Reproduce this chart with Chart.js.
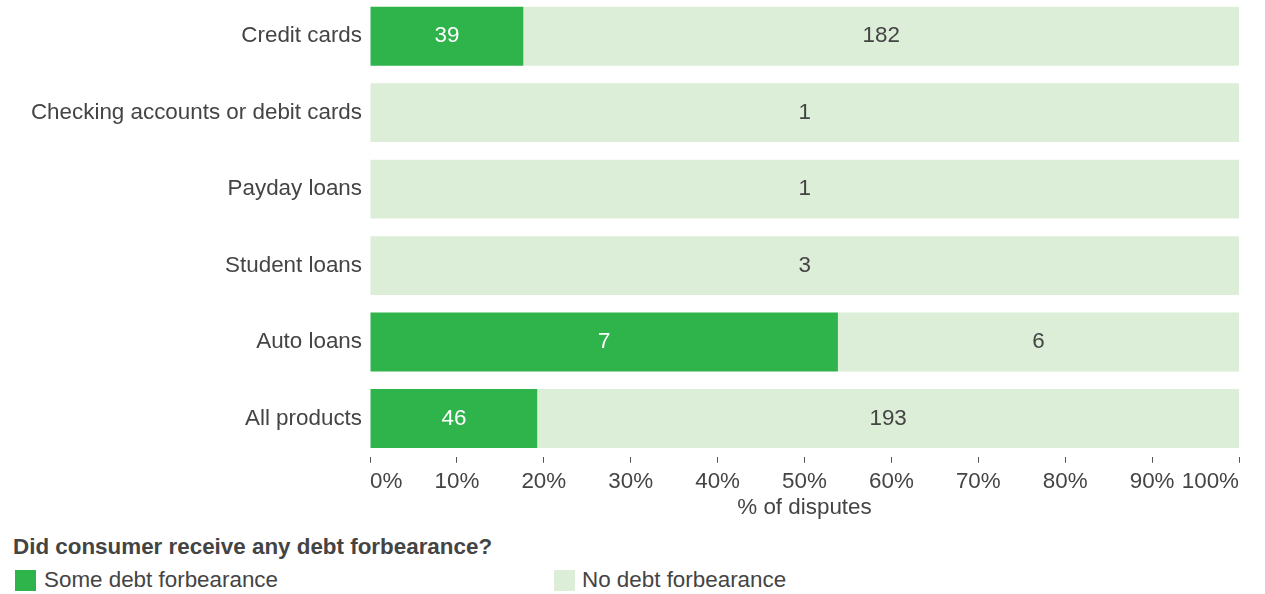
<!DOCTYPE html>
<html>
<head>
<meta charset="utf-8">
<script src="https://cdn.jsdelivr.net/npm/chart.js@4"></script>
<style>
  body { margin: 0; background: #fff; font-family: "Liberation Sans", Arial, sans-serif; color: #444; overflow: hidden; }
  #wrap { position: absolute; left: 0; top: -2px; width: 1265px; height: 521px; }
  .ltitle { position: absolute; left: 13px; top: 533px; font-size: 22.4px; font-weight: bold; color: #444; line-height: 28px; }
  .item { position: absolute; top: 566px; font-size: 22.4px; color: #444; line-height: 28px; }
  .sw { position: absolute; width: 21px; height: 21px; }
</style>
</head>
<body>
<div id="wrap"><canvas id="myChart"></canvas></div>
<div class="ltitle">Did consumer receive any debt forbearance?</div>
<div class="sw" style="left:15px; top:570px; background:#2fb34b;"></div>
<div class="item" style="left:44px;">Some debt forbearance</div>
<div class="sw" style="left:554px; top:570px; background:#dcedd8;"></div>
<div class="item" style="left:582px;">No debt forbearance</div>
<script>
const categories = ["Credit cards", "Checking accounts or debit cards", "Payday loans", "Student loans", "Auto loans", "All products"];
const someForbearance = [39, 0, 0, 0, 7, 46];
const noForbearance = [182, 1, 1, 3, 6, 193];
const xTicks = [0, 10, 20, 30, 40, 50, 60, 70, 80, 90, 100];

const green = '#2fb34b';
const lightGreen = '#dcedd8';
const textColor = '#444444';
const fontFamily = '"Liberation Sans", Arial, sans-serif';
const fontSize = 22.4;

// share of each row, so each bar fills 100%
const pct = (a, i) => a[i] / (someForbearance[i] + noForbearance[i]) * 100;

const valueLabels = {
    id: 'valueLabels',
    afterDatasetsDraw(chart) {
        const c = chart.ctx;
        c.save();
        c.font = fontSize + 'px ' + fontFamily;
        c.textAlign = 'center';
        c.textBaseline = 'middle';
        chart.data.datasets.forEach((ds, di) => {
            const meta = chart.getDatasetMeta(di);
            meta.data.forEach((el, i) => {
                const n = ds.counts[i];
                if (!n) return;
                const p = el.getCenterPoint();
                c.fillStyle = ds.labelColor;
                c.fillText(String(n), p.x, p.y);
            });
        });
        c.restore();
    }
};

const ctx = document.getElementById('myChart').getContext('2d');
const myChart = new Chart(ctx, {
    type: 'bar',
    data: {
        labels: categories,
        datasets: [{
            label: 'Some debt forbearance',
            counts: someForbearance,
            data: categories.map((_, i) => pct(someForbearance, i)),
            backgroundColor: green,
            labelColor: '#ffffff',
            barPercentage: 0.77,
            categoryPercentage: 1
        }, {
            label: 'No debt forbearance',
            counts: noForbearance,
            data: categories.map((_, i) => pct(noForbearance, i)),
            backgroundColor: lightGreen,
            labelColor: textColor,
            barPercentage: 0.77,
            categoryPercentage: 1
        }]
    },
    plugins: [valueLabels],
    options: {
        indexAxis: 'y',
        responsive: true,
        maintainAspectRatio: false,
        animation: false,
        layout: { padding: { top: 0, right: 26, left: 0, bottom: 0 } },
        plugins: {
            legend: { display: false },
            tooltip: { enabled: false }
        },
        scales: {
            x: {
                stacked: true,
                min: 0,
                max: 100,
                afterBuildTicks: (s) => { s.ticks = xTicks.map(v => ({ value: v })); },
                afterFit: (s) => { s.paddingLeft = 0; s.paddingRight = 0; },
                border: { display: false },
                grid: { drawOnChartArea: false, drawTicks: true, tickLength: 6, color: '#555', tickWidth: 1 },
                ticks: {
                    align: 'inner',
                    padding: 6,
                    color: textColor,
                    font: { size: fontSize, family: fontFamily },
                    callback: (v) => v + '%'
                },
                title: {
                    display: true,
                    text: '% of disputes',
                    color: textColor,
                    padding: { top: -5, bottom: 0 },
                    font: { size: fontSize, family: fontFamily, lineHeight: 1 }
                }
            },
            y: {
                stacked: true,
                afterFit: (s) => { s.width = 370; s.paddingTop = 0; s.paddingBottom = 0; },
                border: { display: false },
                grid: { display: false, drawTicks: false },
                ticks: {
                    padding: 8,
                    color: textColor,
                    font: { size: fontSize, family: fontFamily }
                }
            }
        }
    }
});
</script>
</body>
</html>
